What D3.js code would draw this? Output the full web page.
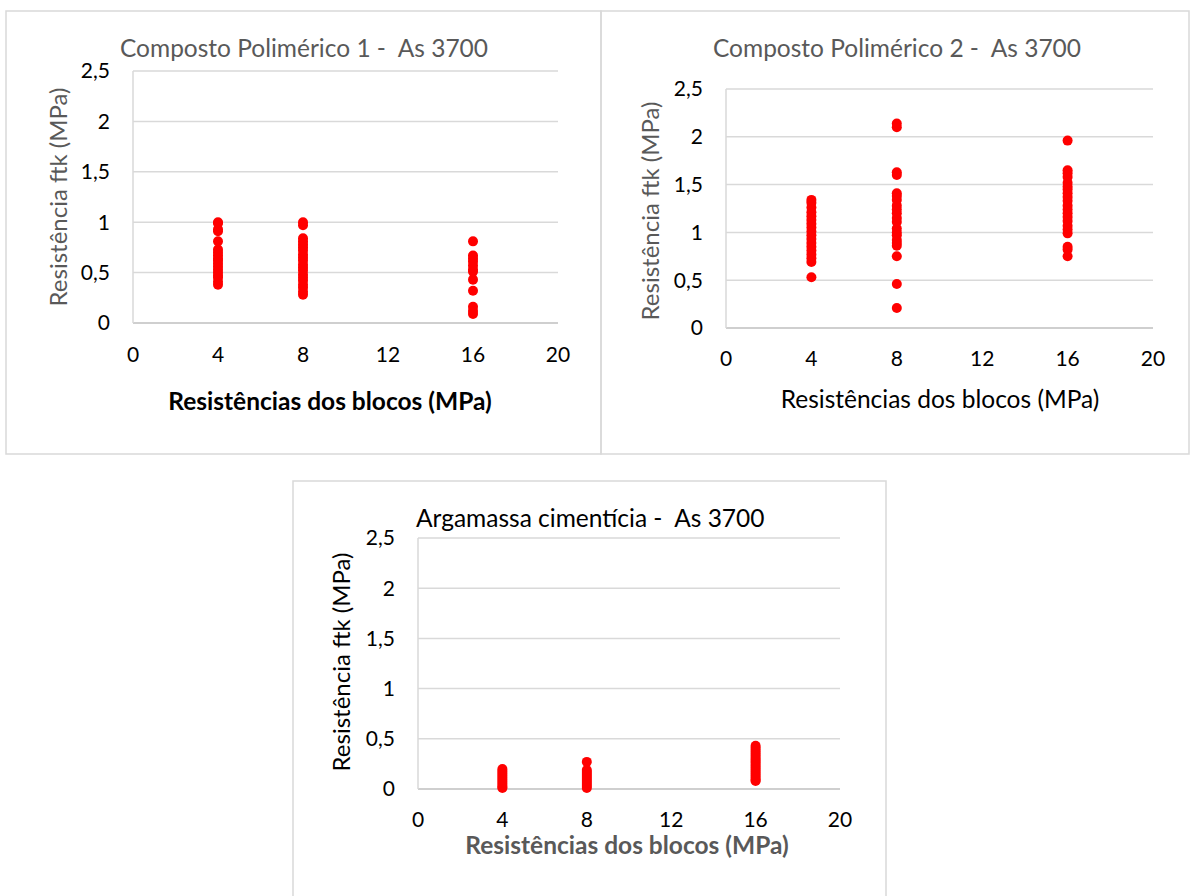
<!DOCTYPE html>
<html>
<head>
<meta charset="utf-8">
<script src="https://cdn.jsdelivr.net/npm/d3@7"></script>
<style>
  body { margin: 0; background: #fff; }
  text { font-family: Lato, "Open Sans", sans-serif; white-space: pre; }
</style>
</head>
<body>
<div id="chart"></div>
<script>
// Data (ftk in MPa per block strength)
const xTicks = [0, 4, 8, 12, 16, 20];
const yTicks = [0, 0.5, 1, 1.5, 2, 2.5];

const cp1_x4 = [1.0, 0.99, 0.93, 0.91, 0.81, 0.73, 0.70, 0.67, 0.64, 0.62, 0.59, 0.56, 0.53, 0.50, 0.47, 0.45, 0.41, 0.38];
const cp1_x8 = [1.0, 0.97, 0.84, 0.81, 0.78, 0.75, 0.72, 0.68, 0.65, 0.62, 0.58, 0.55, 0.52, 0.48, 0.45, 0.42, 0.38, 0.35, 0.31, 0.28];
const cp1_x16 = [0.81, 0.67, 0.64, 0.61, 0.57, 0.53, 0.51, 0.43, 0.32, 0.16, 0.12, 0.09];

const cp2_x4 = [1.34, 1.31, 1.26, 1.21, 1.17, 1.13, 1.09, 1.05, 1.01, 0.97, 0.93, 0.89, 0.85, 0.81, 0.77, 0.73, 0.69, 0.53];
const cp2_x8 = [2.14, 2.10, 1.63, 1.60, 1.41, 1.38, 1.34, 1.28, 1.24, 1.20, 1.15, 1.11, 1.04, 1.00, 0.97, 0.92, 0.89, 0.86, 0.75, 0.46, 0.21];
const cp2_x16 = [1.96, 1.65, 1.62, 1.58, 1.52, 1.48, 1.45, 1.41, 1.37, 1.33, 1.28, 1.24, 1.20, 1.16, 1.12, 1.07, 1.03, 0.99, 0.85, 0.82, 0.75];

const arg_x4 = [0.20, 0.18, 0.16, 0.14, 0.12, 0.10, 0.08, 0.06, 0.04, 0.02, 0.01];
const arg_x8 = [0.27, 0.19, 0.17, 0.15, 0.13, 0.11, 0.09, 0.07, 0.05, 0.03, 0.01];
const arg_x16 = [0.43, 0.41, 0.39, 0.37, 0.35, 0.33, 0.31, 0.29, 0.27, 0.25, 0.23, 0.21, 0.19, 0.17, 0.15, 0.13, 0.11, 0.09, 0.08];

const titles = [
  "Composto Polimérico 1 -  As 3700",
  "Composto Polimérico 2 -  As 3700",
  "Argamassa cimentícia -  As 3700"
];
const xTitle = "Resistências dos blocos (MPa)";
const yTitle = "Resistência ftk (MPa)";

// turn the per-block arrays into point records
function toPoints(groups) {
  const pts = [];
  groups.forEach(([x, vals]) => vals.forEach(v => pts.push({ x: x, y: v })));
  return pts;
}

const svg = d3.select("#chart").append("svg")
  .attr("width", 1190)
  .attr("height", 896);

svg.append("rect").attr("width", 1190).attr("height", 896).attr("fill", "#fff");

// panel layouts (pixels) for the three charts
const panels = [
  {
    box: [6, 11, 595, 443],
    plot: { x0: 133, x1: 558, y0: 323, y1: 71 },
    title: { x: 304, y: 48, anchor: "middle", color: "#595959" },
    xt: { x: 330, y: 401, weight: "bold", color: "#000" },
    yt: { x: 59, y: 197, color: "#595959" },
    tickY: 355,
    data: toPoints([[4, cp1_x4], [8, cp1_x8], [16, cp1_x16]])
  },
  {
    box: [601, 11, 588, 443],
    plot: { x0: 726, x1: 1153, y0: 328, y1: 89 },
    title: { x: 897, y: 48, anchor: "middle", color: "#595959" },
    xt: { x: 940, y: 399, weight: "normal", color: "#000" },
    yt: { x: 651, y: 211, color: "#595959" },
    tickY: 359,
    data: toPoints([[4, cp2_x4], [8, cp2_x8], [16, cp2_x16]])
  },
  {
    box: [293, 481, 593, 420],
    plot: { x0: 418, x1: 840, y0: 789, y1: 538 },
    title: { x: 416, y: 518, anchor: "start", color: "#000" },
    xt: { x: 627, y: 845, weight: "bold", color: "#595959" },
    yt: { x: 342, y: 662, color: "#000" },
    tickY: 820,
    data: toPoints([[4, arg_x4], [8, arg_x8], [16, arg_x16]])
  }
];

panels.forEach((p, i) => {
  const g = svg.append("g");

  // panel border
  g.append("rect")
    .attr("x", p.box[0]).attr("y", p.box[1])
    .attr("width", p.box[2]).attr("height", p.box[3])
    .attr("fill", "none")
    .attr("stroke", "#d9d9d9")
    .attr("stroke-width", 1.5);

  const x = d3.scaleLinear().domain([0, 20]).range([p.plot.x0, p.plot.x1]);
  const y = d3.scaleLinear().domain([0, 2.5]).range([p.plot.y0, p.plot.y1]);

  // gridlines
  g.selectAll(".grid")
    .data(yTicks)
    .enter()
    .append("line")
    .attr("x1", x(0)).attr("x2", x(20))
    .attr("y1", d => y(d)).attr("y2", d => y(d))
    .attr("stroke", d => d === 0 ? "#bfbfbf" : "#d9d9d9")
    .attr("stroke-width", 1.5);

  // left axis line
  g.append("line")
    .attr("x1", x(0)).attr("x2", x(0))
    .attr("y1", y(0)).attr("y2", y(2.5))
    .attr("stroke", "#d9d9d9")
    .attr("stroke-width", 1.5);

  // y tick labels
  g.selectAll(".ytick")
    .data(yTicks)
    .enter()
    .append("text")
    .attr("x", x(0) - 23)
    .attr("y", d => y(d))
    .attr("dy", "0.35em")
    .attr("text-anchor", "end")
    .style("font-size", "21px")
    .attr("fill", "#000")
    .text(d => String(d).replace(".", ","));

  // x tick labels
  g.selectAll(".xtick")
    .data(xTicks)
    .enter()
    .append("text")
    .attr("x", d => x(d))
    .attr("y", p.tickY)
    .attr("dy", "0.35em")
    .attr("text-anchor", "middle")
    .style("font-size", "21px")
    .attr("fill", "#000")
    .text(d => d);

  // points
  g.selectAll(".pt")
    .data(p.data)
    .enter()
    .append("circle")
    .attr("cx", d => x(d.x))
    .attr("cy", d => y(d.y))
    .attr("r", 5)
    .attr("fill", "#ff0000");

  // chart title
  g.append("text")
    .attr("x", p.title.x).attr("y", p.title.y)
    .attr("dy", "0.35em")
    .attr("text-anchor", p.title.anchor)
    .style("font-size", "24.5px")
    .attr("fill", p.title.color)
    .text(titles[i]);

  // x axis title
  g.append("text")
    .attr("x", p.xt.x).attr("y", p.xt.y)
    .attr("dy", "0.35em")
    .attr("text-anchor", "middle")
    .style("font-size", "24.5px")
    .style("font-weight", p.xt.weight)
    .attr("fill", p.xt.color)
    .text(xTitle);

  // y axis title
  g.append("text")
    .attr("transform", `translate(${p.yt.x},${p.yt.y}) rotate(-90)`)
    .attr("dy", "0.35em")
    .attr("text-anchor", "middle")
    .style("font-size", "24px")
    .attr("fill", p.yt.color)
    .text(yTitle);
});
</script>
</body>
</html>
